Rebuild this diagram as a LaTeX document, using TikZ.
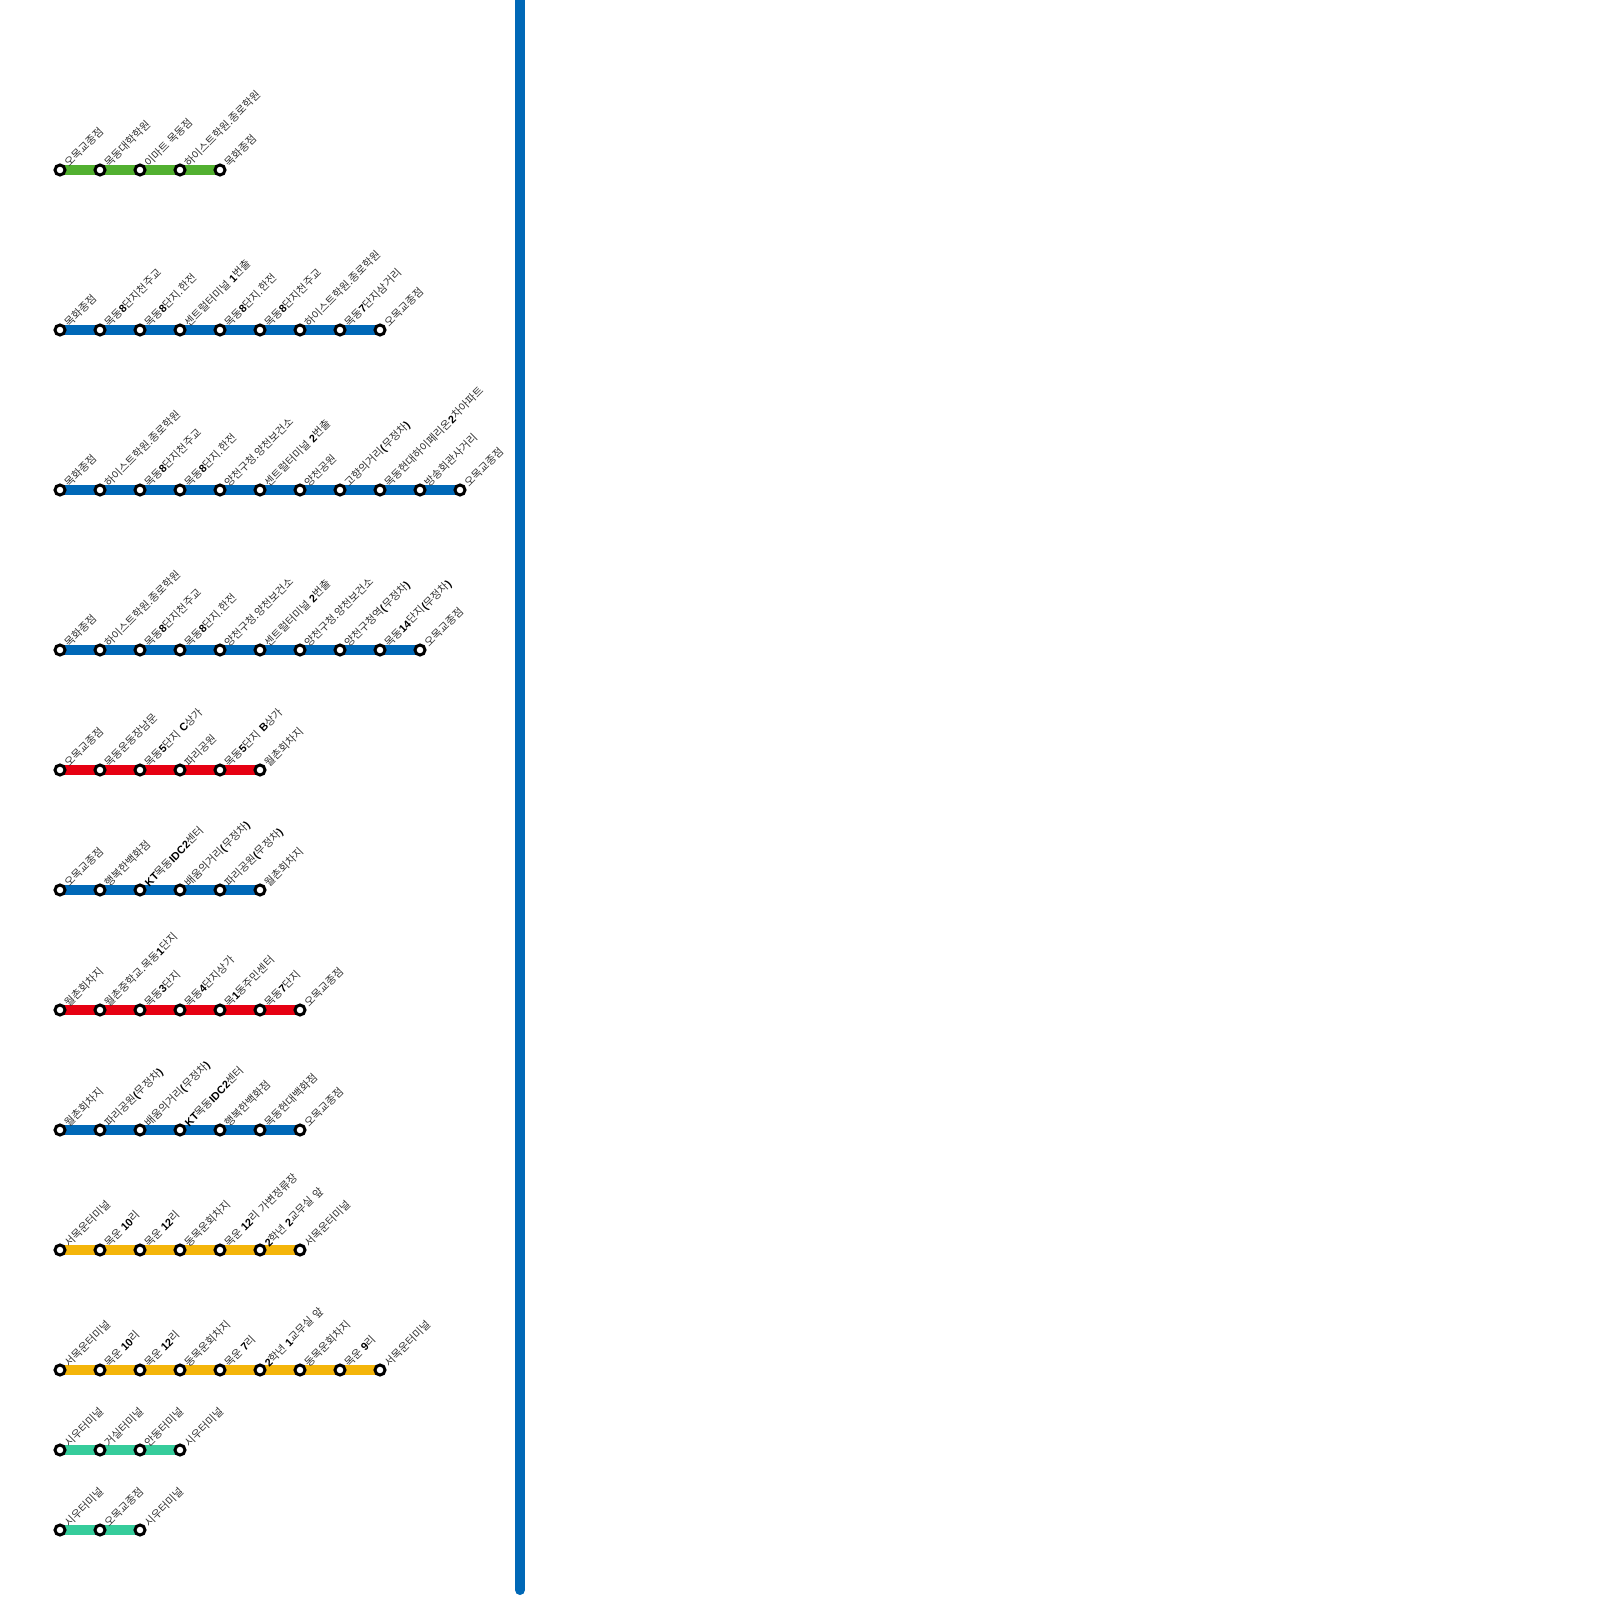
\documentclass[tikz,border=0pt]{standalone}
\usepackage{fontspec}
\setmainfont[WordSpace=1.2]{Noto Sans CJK KR}
\newfontfamily\latb{Liberation Sans Bold}
\usetikzlibrary{backgrounds}
\newcommand{\bd}[1]{{\latb\color{black}#1}}
\definecolor{cgreen}{HTML}{52B030}
\definecolor{cblue}{HTML}{0068B7}
\definecolor{cred}{HTML}{E60012}
\definecolor{cyellow}{HTML}{F4B50A}
\definecolor{cteal}{HTML}{36CC9B}
\definecolor{ctext}{HTML}{333333}
\tikzset{
  stop/.style={circle,draw=black,fill=white,line width=3pt,minimum size=10pt,inner sep=0pt,outer sep=0pt},
  lbl/.style={rotate=45,anchor=base west,inner sep=0pt,font=\fontsize{10.8pt}{11pt}\selectfont,text=ctext},
  track/.style={line width=10pt,line cap=butt}
}
\newcommand{\metroline}[4]{%
  \foreach \lab [count=\i, remember=\i as \prev (initially 0)] in {#4} {
    \node[stop] (s#1-\i) at ({20+40*\i},#3) {};
    \node[lbl] (t#1-\i) at ({20+40*\i+9.2},#3-2.5) {\lab};
    \ifnum\prev>0
      \begin{scope}[on background layer]
        \draw[track,#2] (s#1-\prev.center) -- (s#1-\i.center);
      \end{scope}
    \fi
  }%
}
\begin{document}
\begin{tikzpicture}[x=1pt,y=-1pt]
\useasboundingbox (0,0) rectangle (1600,1600);
\begin{scope}[on background layer]
\fill[white] (0,0) rectangle (1600,1600);
\end{scope}
\metroline{a}{cgreen}{170}{오목교종점,목동대학학원,이마트 목동점,하이스트학원.종로학원,목화종점}
\metroline{b}{cblue}{330}{목화종점,목동\bd{8}단지천주교,목동\bd{8}단지.한전,센트럴터미널 \bd{1}번출,목동\bd{8}단지.한전,목동\bd{8}단지천주교,하이스트학원.종로학원,목동\bd{7}단지삼거리,오목교종점}
\metroline{c}{cblue}{490}{목화종점,하이스트학원.종로학원,목동\bd{8}단지천주교,목동\bd{8}단지.한전,양천구청.양천보건소,센트럴터미널 \bd{2}번출,양천공원,고향의거리\bd{(}무정차\bd{)},목동현대하이페리온\bd{2}차아파트,방송회관사거리,오목교종점}
\metroline{d}{cblue}{650}{목화종점,하이스트학원.종로학원,목동\bd{8}단지천주교,목동\bd{8}단지.한전,양천구청.양천보건소,센트럴터미널 \bd{2}번출,양천구청.양천보건소,양천구청역\bd{(}무정차\bd{)},목동\bd{14}단지\bd{(}무정차\bd{)},오목교종점}
\metroline{e}{cred}{770}{오목교종점,목동운동장남문,목동\bd{5}단지 \bd{C}상가,파리공원,목동\bd{5}단지 \bd{B}상가,월촌회차지}
\metroline{f}{cblue}{890}{오목교종점,행복한백화점,\bd{KT}목동\bd{IDC2}센터,배움의거리\bd{(}무정차\bd{)},파리공원\bd{(}무정차\bd{)},월촌회차지}
\metroline{g}{cred}{1010}{월촌회차지,월촌중학교.목동\bd{1}단지,목동\bd{3}단지,목동\bd{4}단지상가,목\bd{1}동주민센터,목동\bd{7}단지,오목교종점}
\metroline{h}{cblue}{1130}{월촌회차지,파리공원\bd{(}무정차\bd{)},배움의거리\bd{(}무정차\bd{)},\bd{KT}목동\bd{IDC2}센터,행복한백화점,목동현대백화점,오목교종점}
\metroline{i}{cyellow}{1250}{서목운터미널,목운 \bd{10}리,목운 \bd{12}리,동목운회차지,목운 \bd{12}리 가변정류장,\bd{2}학년 \bd{2}교무실 앞,서목운터미널}
\metroline{j}{cyellow}{1370}{서목운터미널,목운 \bd{10}리,목운 \bd{12}리,동목운회차지,목운 \bd{7}리,\bd{2}학년 \bd{1}교무실 앞,동목운회차지,목운 \bd{9}리,서목운터미널}
\metroline{k}{cteal}{1450}{시우터미널,거실터미널,안동터미널,시우터미널}
\metroline{l}{cteal}{1530}{시우터미널,오목교종점,시우터미널}
\coordinate (vtop) at (520,-10);
\coordinate (vbot) at (520,1590);
\draw[line width=10pt,line cap=round,cblue] (vtop) -- (vbot);
\end{tikzpicture}
\end{document}
